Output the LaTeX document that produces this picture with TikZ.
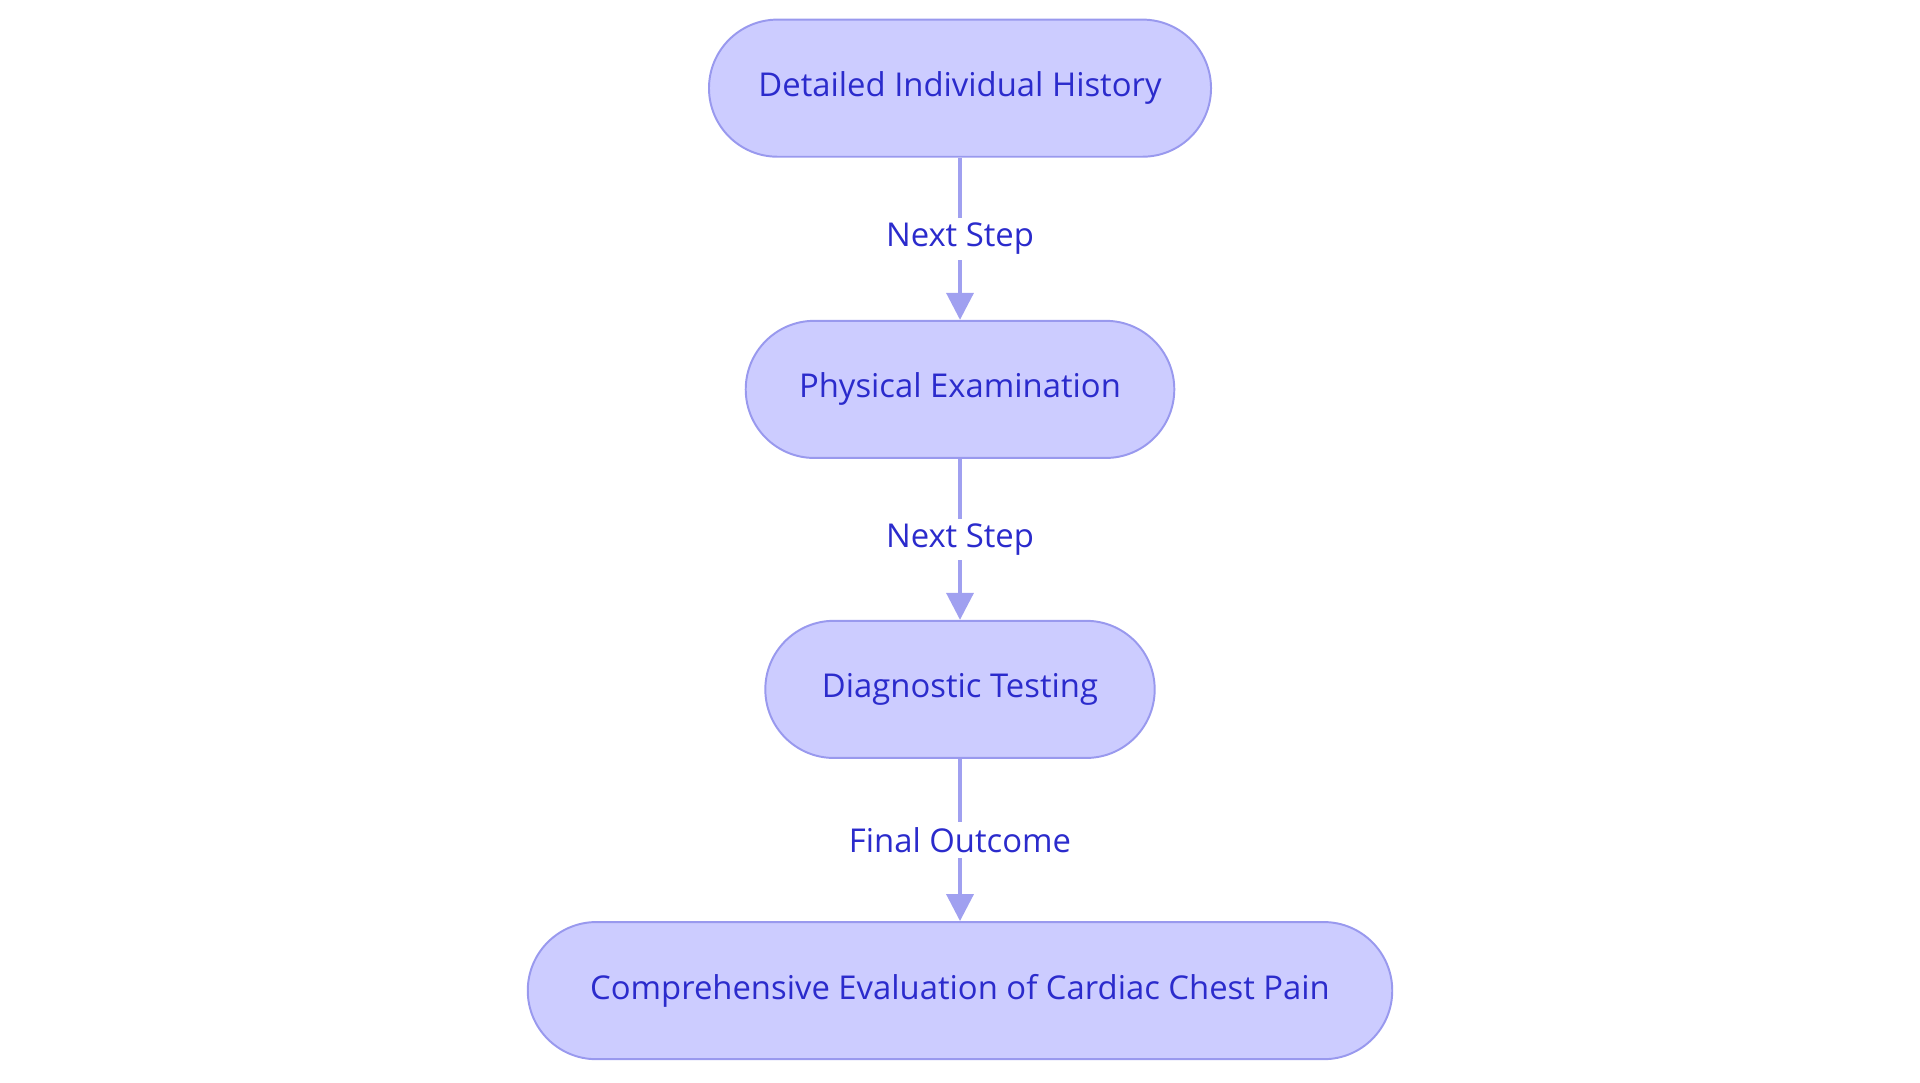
\documentclass[tikz,border=0pt]{standalone}
\usepackage{fontspec}
\setmainfont{Open Sans}
\usetikzlibrary{arrows.meta}
\definecolor{boxfill}{HTML}{CCCCFF}
\definecolor{boxline}{HTML}{9999EE}
\definecolor{txt}{HTML}{2B2BCC}
\definecolor{arr}{HTML}{A0A0F0}
\tikzset{
  px/.style={x=0.5pt,y=-0.5pt},
  stepbox/.style={draw=boxline,line width=0.8pt,fill=boxfill,rounded corners=28pt,minimum height=56pt,text=txt,font=\fontsize{13.4}{16}\selectfont,inner sep=0pt},
  conn/.style={draw=arr,line width=1.5pt,-{Triangle[length=11pt,width=11pt]}},
  lab/.style={fill=white,text=txt,font=\fontsize{13.4}{16}\selectfont,inner sep=2pt}
}
\begin{document}
\begin{tikzpicture}[px]
\useasboundingbox (0,0) rectangle (1568,884);
\node[stepbox,minimum width=205pt] (a) at (784,72) {Detailed Individual History};
\node[stepbox,minimum width=175pt] (b) at (784,318) {Physical Examination};
\node[stepbox,minimum width=159pt] (c) at (784,563) {Diagnostic Testing};
\node[stepbox,minimum width=353pt] (d) at (784,809) {Comprehensive Evaluation of Cardiac Chest Pain};
\draw[conn] (a) -- node[lab]{Next Step} (b);
\draw[conn] (b) -- node[lab]{Next Step} (c);
\draw[conn] (c) -- node[lab]{Final Outcome} (d);
\end{tikzpicture}
\end{document}
